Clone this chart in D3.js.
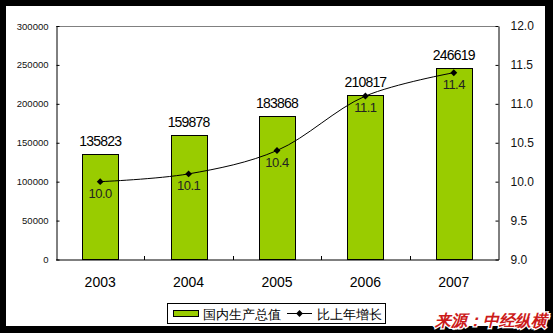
<!DOCTYPE html>
<html>
<head>
<meta charset="utf-8">
<script src="https://cdn.jsdelivr.net/npm/d3@7/dist/d3.min.js"></script>
<style>
  html, body { margin: 0; padding: 0; background: #000; }
  svg { display: block; }
  text { font-family: "Liberation Sans", Arial, sans-serif; }
</style>
</head>
<body>
<script>
// GDP (100 million yuan) and annual growth rate (%)
const years = ["2003", "2004", "2005", "2006", "2007"];
const gdp = [135823, 159878, 183868, 210817, 246619];
const growth = [10.0, 10.1, 10.4, 11.1, 11.4];
const leftTicks = [0, 50000, 100000, 150000, 200000, 250000, 300000];
const rightTicks = [9.0, 9.5, 10.0, 10.5, 11.0, 11.5, 12.0];
const legendLabels = ["国内生产总值", "比上年增长"];
const sourceNote = "来源：中经纵横";

const W = 553, H = 333;
const plot = { left: 56, right: 498, top: 26, bottom: 259.5 };

const svg = d3.select("body").append("svg")
  .attr("width", W).attr("height", H);

// black frame with white canvas
svg.append("rect").attr("width", W).attr("height", H).attr("fill", "#000");
svg.append("rect").attr("x", 6).attr("y", 6).attr("width", 539).attr("height", 320).attr("fill", "#fff");

const x = d3.scaleBand().domain(years).range([plot.left, plot.right]).paddingInner(0).paddingOuter(0);
const yL = d3.scaleLinear().domain([0, 300000]).range([plot.bottom, plot.top]);
const yR = d3.scaleLinear().domain([9, 12]).range([plot.bottom, plot.top]);

// top border of plot area
svg.append("line")
  .attr("x1", plot.left).attr("x2", plot.right)
  .attr("y1", plot.top + 0.5).attr("y2", plot.top + 0.5)
  .attr("stroke", "#808080").attr("stroke-width", 1);

// bars
const barW = 36;
svg.append("g").selectAll("rect").data(gdp).join("rect")
  .attr("x", (d, i) => Math.round(x(years[i]) + x.bandwidth() / 2 - barW / 2) + 0.5)
  .attr("y", d => Math.round(yL(d)) + 0.5)
  .attr("width", barW)
  .attr("height", d => plot.bottom - Math.round(yL(d)) - 0.5)
  .attr("fill", "#99cc00")
  .attr("stroke", "#000").attr("stroke-width", 1);

// bar value labels
svg.append("g").selectAll("text").data(gdp).join("text")
  .attr("x", (d, i) => x(years[i]) + x.bandwidth() / 2)
  .attr("y", d => yL(d) - 8)
  .attr("text-anchor", "middle")
  .attr("font-size", 14)
  .attr("letter-spacing", -0.8)
  .attr("fill", "#000")
  .text(d => d);

// left axis
const axL = d3.axisLeft(yL).tickValues(leftTicks).tickSizeInner(-3).tickSizeOuter(0).tickPadding(8)
  .tickFormat(d3.format("d"));
const gL = svg.append("g").attr("transform", `translate(${plot.left + 0.5},0)`).call(axL);
gL.select(".domain").attr("stroke", "#000");
gL.selectAll(".tick line").attr("stroke", "#000");
gL.selectAll("text").attr("font-size", 9.5).attr("fill", "#111")
  .attr("font-family", "'Liberation Sans', Arial, sans-serif");

// right axis
const axR = d3.axisRight(yR).tickValues(rightTicks).tickSizeInner(-3).tickSizeOuter(0).tickPadding(12)
  .tickFormat(d3.format(".1f"));
const gR = svg.append("g").attr("transform", `translate(${plot.right + 0.5},0)`).call(axR);
gR.select(".domain").attr("stroke", "#000");
gR.selectAll(".tick line").attr("stroke", "#000");
gR.selectAll("text").attr("font-size", 12).attr("fill", "#111")
  .attr("font-family", "'Liberation Sans', Arial, sans-serif");

// bottom axis with inward category separators
const gB = svg.append("g").attr("transform", `translate(0,${plot.bottom + 0.5})`);
gB.append("line").attr("x1", plot.left).attr("x2", plot.right + 1)
  .attr("stroke", "#000");
gB.selectAll("line.sep").data(years.slice(1)).join("line")
  .attr("class", "sep")
  .attr("x1", d => Math.round(x(d)) + 0.5).attr("x2", d => Math.round(x(d)) + 0.5)
  .attr("y1", 0).attr("y2", -4)
  .attr("stroke", "#000");
gB.selectAll("text").data(years).join("text")
  .attr("x", d => x(d) + x.bandwidth() / 2)
  .attr("y", 27)
  .attr("text-anchor", "middle")
  .attr("font-size", 14)
  .attr("fill", "#000")
  .text(d => d);

// growth line (smoothed)
const cx = i => x(years[i]) + x.bandwidth() / 2;
const line = d3.line()
  .x((d, i) => cx(i))
  .y(d => yR(d))
  .curve(d3.curveCatmullRom.alpha(0.5));
svg.append("path").datum(growth)
  .attr("d", line)
  .attr("fill", "none")
  .attr("stroke", "#000")
  .attr("stroke-width", 1);

const diamond = d3.symbol().type(d3.symbolDiamond2).size(30);
svg.append("g").selectAll("path").data(growth).join("path")
  .attr("transform", (d, i) => `translate(${cx(i)},${yR(d)})`)
  .attr("d", diamond)
  .attr("fill", "#000");

svg.append("g").selectAll("text").data(growth).join("text")
  .attr("x", (d, i) => cx(i))
  .attr("y", d => yR(d) + 16)
  .attr("text-anchor", "middle")
  .attr("font-size", 13)
  .attr("letter-spacing", -0.5)
  .attr("fill", "#222")
  .text(d => d3.format(".1f")(d));

// legend
const lg = svg.append("g");
lg.append("rect").attr("x", 167.5).attr("y", 303.5).attr("width", 218).attr("height", 20)
  .attr("fill", "#fff").attr("stroke", "#000");
lg.append("rect").attr("x", 173.5).attr("y", 310.5).attr("width", 25).attr("height", 6)
  .attr("fill", "#99cc00").attr("stroke", "#000");
lg.append("text").attr("x", 203).attr("y", 318.5).attr("font-size", 13)
  .attr("font-family", "'Noto Sans CJK SC', sans-serif").attr("fill", "#000")
  .text(legendLabels[0]);
lg.append("line").attr("x1", 287).attr("x2", 312).attr("y1", 313.5).attr("y2", 313.5)
  .attr("stroke", "#000");
lg.append("path").attr("transform", "translate(299.5,313.5)").attr("d", diamond).attr("fill", "#000");
lg.append("text").attr("x", 317).attr("y", 318.5).attr("font-size", 13)
  .attr("font-family", "'Noto Sans CJK SC', sans-serif").attr("fill", "#000")
  .text(legendLabels[1]);

// source note
svg.append("text")
  .attr("x", 547).attr("y", 326)
  .attr("text-anchor", "end")
  .attr("font-size", 16).attr("font-weight", "bold").attr("font-style", "italic")
  .attr("font-family", "'Noto Sans CJK SC', sans-serif")
  .attr("fill", "#cc1a1a")
  .attr("stroke", "#fff").attr("stroke-width", 2.5).attr("paint-order", "stroke")
  .attr("transform", "skewX(0)")
  .text(sourceNote);
</script>
</body>
</html>
